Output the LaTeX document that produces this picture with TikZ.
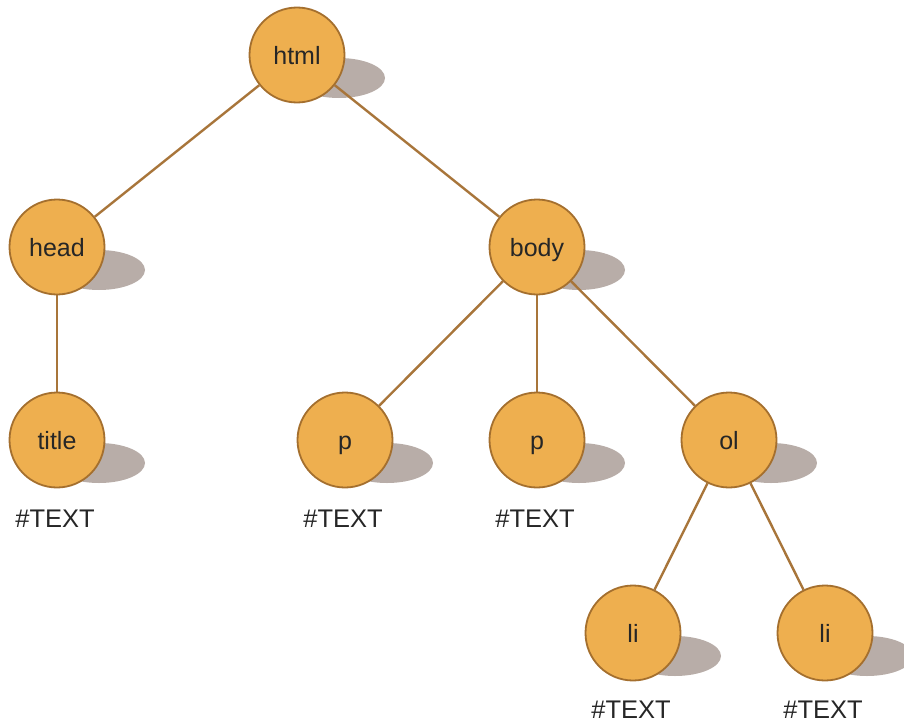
\documentclass[tikz,border=0pt]{standalone}
\usepackage{fontspec}
\setmainfont{Liberation Sans}
\usetikzlibrary{calc,backgrounds}
\definecolor{nodefill}{HTML}{EEAF4F}
\definecolor{nodeedge}{HTML}{A46F2E}
\definecolor{linkc}{HTML}{A8753A}
\definecolor{shadowc}{HTML}{B8ADA8}
\definecolor{labelc}{HTML}{262626}
\begin{document}
\begin{tikzpicture}[x=1pt,y=-1pt,
  tnode/.style={circle, draw=nodeedge, line width=1.8pt, fill=nodefill,
    minimum size=95pt, inner sep=0pt, text=labelc,
    text height=18pt, text depth=0pt,
    font=\fontsize{25}{30}\selectfont},
  link/.style={draw=linkc, line width=2.4pt},
  tag/.style={text=labelc, font=\fontsize{25.5}{30}\selectfont, inner sep=0pt, anchor=base},
  shade/.style={fill=shadowc}]
\useasboundingbox (0,0) rectangle (904,725);

% element nodes
\node[tnode] (html)  at (297,55)  {html};
\node[tnode] (head)  at (57,247)  {head};
\node[tnode] (body)  at (537,247) {body};
\node[tnode] (title) at (57,440)  {title};
\node[tnode] (pa)    at (345,440) {p};
\node[tnode] (pb)    at (537,440) {p};
\node[tnode] (ol)    at (729,440) {ol};
\node[tnode] (lia)   at (633,633) {li};
\node[tnode] (lib)   at (825,633) {li};

\begin{pgfonlayer}{background}
  % cast shadows behind each element
  \foreach \n in {html,head,body,title,pa,pb,ol,lia,lib}
    \fill[shade] ($(\n.center)+(42,23)$) ellipse [x radius=46pt, y radius=20pt];
  % parent-child links
  \foreach \a/\b in {html/head,html/body,head/title,body/pa,body/pb,body/ol,ol/lia,ol/lib}
    \draw[link] (\a) -- (\b);
\end{pgfonlayer}

% text children
\node[tag] (ta) at (55,527)  {\#TEXT};
\node[tag] (tb) at (343,527) {\#TEXT};
\node[tag] (tc) at (535,527) {\#TEXT};
\node[tag] (td) at (631,718) {\#TEXT};
\node[tag] (te) at (823,718) {\#TEXT};
\end{tikzpicture}
\end{document}
